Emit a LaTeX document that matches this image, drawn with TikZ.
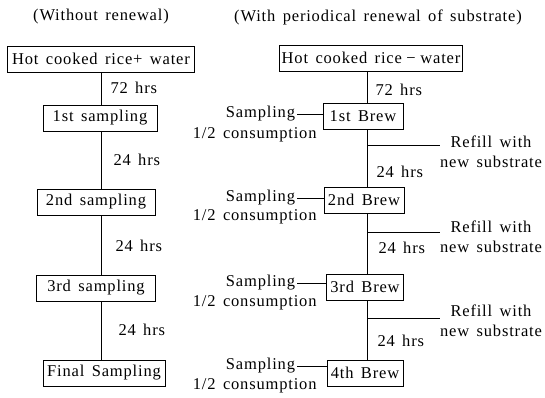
\documentclass[tikz,border=0pt]{standalone}
\usepackage{fontspec}
\setmainfont{Liberation Serif}[LetterSpace=5,WordSpace=1.5]
\begin{document}
\begin{tikzpicture}[x=1pt,y=-1pt,
  font=\fontsize{16.5}{20}\selectfont,
  line width=1pt,
  box/.style={draw, inner xsep=2pt, inner ysep=0pt, minimum height=26pt},
  lbl/.style={inner sep=0pt},
  side/.style={inner sep=1.5pt}]
\useasboundingbox (0,0) rectangle (545,397);
% titles
\node[lbl] (t1) at (101,17) {(Without renewal)};
\node[lbl] (t2) at (378,17) {(With periodical renewal of substrate)};
% spines
\coordinate (ls) at (101,0);
\coordinate (rs) at (367,0);
% left column
\node[box, minimum width=187pt] (L0) at (101,59) {Hot cooked rice+ water};
\node[box, minimum width=114pt] (L1) at (100,118) {1st sampling};
\node[box, minimum width=118pt] (L2) at (96,202) {2nd sampling};
\node[box, minimum width=119pt] (L3) at (96,288) {3rd sampling};
\node[box, minimum width=122pt] (L4) at (104,373) {Final Sampling};
\draw (L0.south -| ls) -- (L1.north -| ls);
\draw (L1.south -| ls) -- (L2.north -| ls);
\draw (L2.south -| ls) -- (L3.north -| ls);
\draw (L3.south -| ls) -- (L4.north -| ls);
\node[lbl, anchor=west] (lt0) at (110,88) {72 hrs};
\node[lbl, anchor=west] (lt1) at (113,160) {24 hrs};
\node[lbl, anchor=west] (lt2) at (115,246) {24 hrs};
\node[lbl, anchor=west] (lt3) at (118,330) {24 hrs};
% right column
\node[box, minimum width=183pt] (R0) at (371,58) {Hot cooked rice\;−\;water};
\node[box, minimum width=80pt] (R1) at (363,116) {1st Brew};
\node[box, minimum width=80pt] (R2) at (364,200) {2nd Brew};
\node[box, minimum width=77pt] (R3) at (365,287) {3rd Brew};
\node[box, minimum width=76pt] (R4) at (365,373) {4th Brew};
\draw (R0.south -| rs) -- (R1.north -| rs);
\draw (R1.south -| rs) -- (R2.north -| rs);
\draw (R2.south -| rs) -- (R3.north -| rs);
\draw (R3.south -| rs) -- (R4.north -| rs);
\node[lbl, anchor=west] (rt0) at (375,90) {72 hrs};
\node[lbl, anchor=west] (rt1) at (376,172) {24 hrs};
\node[lbl, anchor=west] (rt2) at (378,248) {24 hrs};
\node[lbl, anchor=west] (rt3) at (377,341) {24 hrs};
% refill branches
\coordinate (b1) at (367,145);
\coordinate (b2) at (367,232);
\coordinate (b3) at (367,318);
\node[lbl, align=center] (f1) at (491,152) {Refill with\\new substrate};
\node[lbl, align=center] (f2) at (491,237) {Refill with\\new substrate};
\node[lbl, align=center] (f3) at (491,321) {Refill with\\new substrate};
\draw (b1) -- (f1.west |- b1);
\draw (b2) -- (f2.west |- b2);
\draw (b3) -- (f3.west |- b3);
% sampling side
\node[side, anchor=east] (s1) at (297,114) {Sampling};
\node[side, anchor=east] (s2) at (297,198) {Sampling};
\node[side, anchor=east] (s3) at (297,283) {Sampling};
\node[side, anchor=east] (s4) at (297,366) {Sampling};
\node[lbl, anchor=east] (c1) at (317,135) {1/2 consumption};
\node[lbl, anchor=east] (c2) at (317,217) {1/2 consumption};
\node[lbl, anchor=east] (c3) at (317,303) {1/2 consumption};
\node[lbl, anchor=east] (c4) at (317,386) {1/2 consumption};
\draw (s1.east) -- (s1.east -| R1.west);
\draw (s2.east) -- (s2.east -| R2.west);
\draw (s3.east) -- (s3.east -| R3.west);
\draw (s4.east) -- (s4.east -| R4.west);
\end{tikzpicture}
\end{document}
